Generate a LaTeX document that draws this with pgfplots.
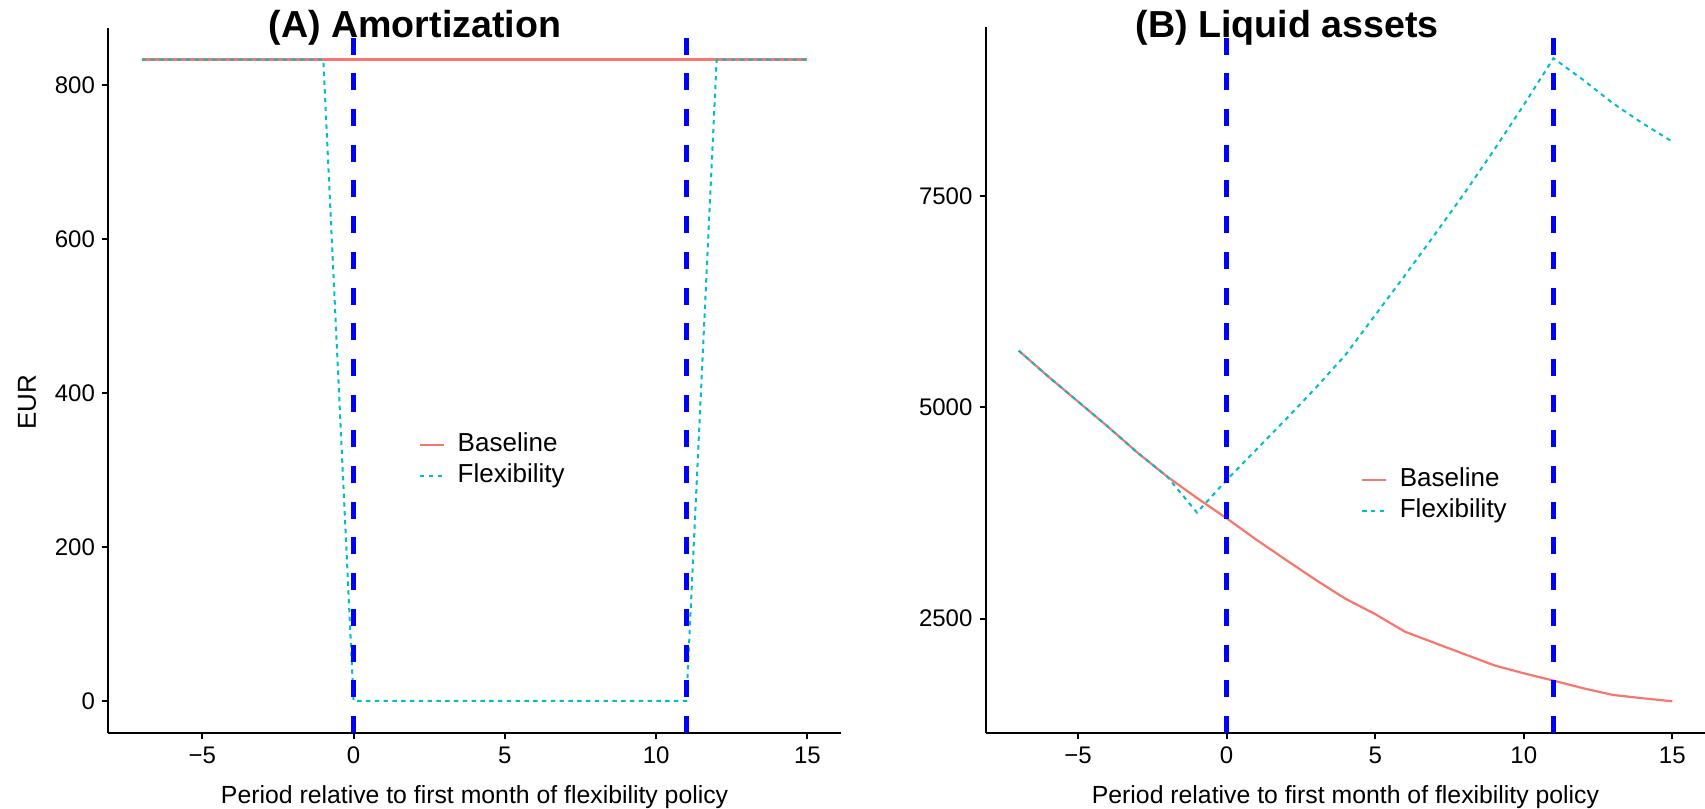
\documentclass[border=0pt]{standalone}
\usepackage{pgfplots}
\pgfplotsset{compat=1.18}
\usepackage{fontspec}
\setmainfont{Liberation Sans}
\definecolor{gred}{HTML}{F8766D}
\definecolor{gcyan}{HTML}{00BFC4}
\pgfplotsset{
  myax/.style={
    scale only axis, height=352.75pt,
    axis x line*=bottom, axis y line*=left,
    axis line style={-, line width=1pt, black},
    tick align=outside, major tick length=3.25pt,
    every tick/.style={black, line width=1pt},
    xmin=-8.1, xmax=16.1,
    xtick={-5,0,5,10,15}, xticklabels={−5,0,5,10,15},
    ticklabel style={font=\fontsize{12}{14}\selectfont},
    /pgf/number format/assume math mode=true,
    legend cell align=left,
    legend style={draw=none, fill=none, inner sep=0pt, outer sep=0pt, anchor=west,
      font=\fontsize{13}{15}\selectfont, row sep=3.6pt,
      nodes={inner sep=0pt, text height=9.2pt, text depth=2.6pt},
      /tikz/every odd column/.append style={column sep=6.5pt}},
  },
  bl/.style={gred, line width=1.1pt},
  fx/.style={gcyan, line width=1pt, dash pattern=on 2.2pt off 2.2pt},
  vl/.style={blue, line width=2.4pt, dash pattern=on 8.5pt off 9.35pt, forget plot},
}
\begin{document}
\begin{tikzpicture}
\useasboundingbox (0,0) rectangle (852.5pt,404.5pt);
% Panel A
\begin{axis}[myax, at={(54.25pt,38pt)}, anchor=south west, width=366.1pt,
  ymin=-41.67, ymax=875, ytick={0,200,400,600,800}, yticklabels={0,200,400,600,800},
  legend style={at={(0.424,0.386)}},
  legend image code/.code={\draw[#1] (0pt,0pt) -- (11.8pt,0pt);}]
\addplot[bl] coordinates {(-7,833.33) (-6,833.33) (-5,833.33) (-4,833.33) (-3,833.33) (-2,833.33) (-1,833.33) (0,833.33) (1,833.33) (2,833.33) (3,833.33) (4,833.33) (5,833.33) (6,833.33) (7,833.33) (8,833.33) (9,833.33) (10,833.33) (11,833.33) (12,833.33) (13,833.33) (14,833.33) (15,833.33)};
\addlegendentry{Baseline}
\addplot[fx] coordinates {(-7,833.33) (-6,833.33) (-5,833.33) (-4,833.33) (-3,833.33) (-2,833.33) (-1,833.33) (0,0) (1,0) (2,0) (3,0) (4,0) (5,0) (6,0) (7,0) (8,0) (9,0) (10,0) (11,0) (12,833.33) (13,833.33) (14,833.33) (15,833.33)};
\addlegendentry{Flexibility}
\addplot[vl] coordinates {(0,-41.67) (0,875)};
\addplot[vl] coordinates {(11,-41.67) (11,875)};
\end{axis}
% Panel B
\begin{axis}[myax, at={(493pt,38pt)}, anchor=south west, width=359.5pt,
  ymin=1148, ymax=9491, ytick={2500,5000,7500}, yticklabels={2500,5000,7500},
  legend style={at={(0.5216,0.337)}},
  legend image code/.code={\draw[#1] (0pt,0pt) -- (11.8pt,0pt);}]
\addplot[bl] coordinates {(-7,5670) (-6,5362) (-5,5067) (-4,4771) (-3,4463) (-2,4180) (-1,3927) (0,3687) (1,3434) (2,3194) (3,2958) (4,2735) (5,2554) (6,2346) (7,2213) (8,2081) (9,1949) (10,1854) (11,1767) (12,1677) (13,1598) (14,1559) (15,1523)};
\addlegendentry{Baseline}
\addplot[fx] coordinates {(-7,5670) (-6,5362) (-5,5067) (-4,4771) (-3,4463) (-2,4180) (-1,3754) (0,4140) (1,4500) (2,4860) (3,5230) (4,5620) (5,6090) (6,6560) (7,7040) (8,7530) (9,8043) (10,8575) (11,9127) (12,8871) (13,8595) (14,8358) (15,8141)};
\addlegendentry{Flexibility}
\addplot[vl] coordinates {(0,1148) (0,9491)};
\addplot[vl] coordinates {(11,1148) (11,9491)};
\end{axis}
\node[anchor=base, font=\bfseries\fontsize{18.8}{21}\selectfont] at (207.5pt,385.85pt) {(A) Amortization};
\node[anchor=base, font=\bfseries\fontsize{18.8}{21}\selectfont] at (643.7pt,385.85pt) {(B) Liquid assets};
\node[anchor=base, font=\fontsize{12.4}{14}\selectfont] at (237.3pt,2.9pt) {Period relative to first month of flexibility policy};
\node[anchor=base, font=\fontsize{12.4}{14}\selectfont] at (672.75pt,2.9pt) {Period relative to first month of flexibility policy};
\node[rotate=90, font=\fontsize{13}{15}\selectfont] at (13.5pt,203.5pt) {EUR};
\end{tikzpicture}
\end{document}
